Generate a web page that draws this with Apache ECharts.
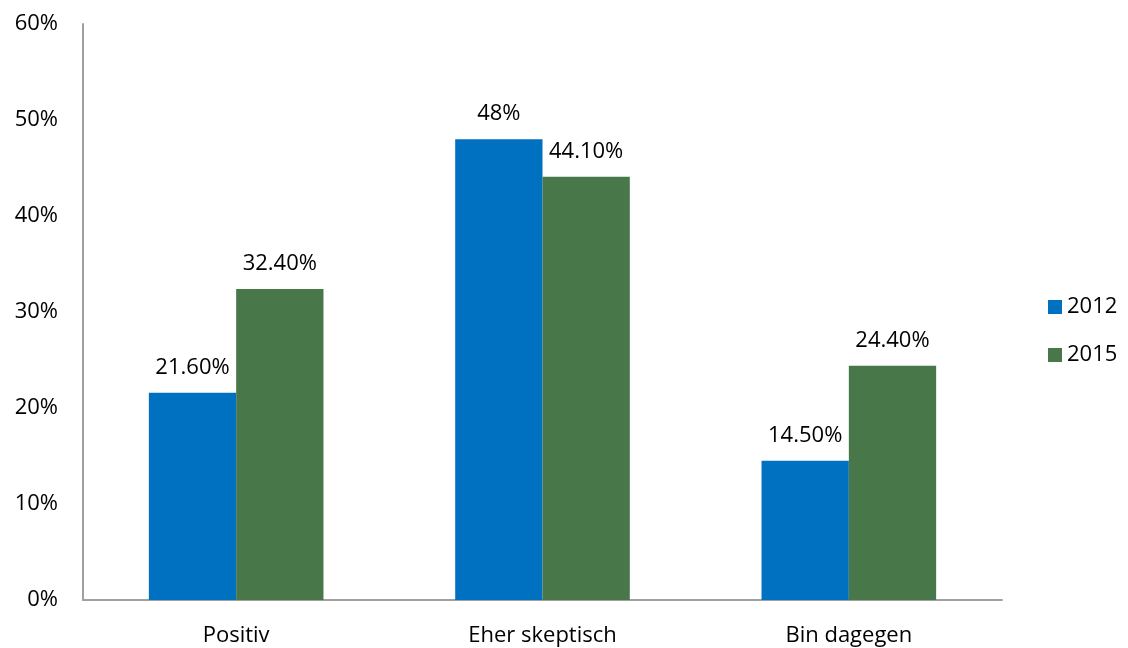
<!DOCTYPE html>
<html>
<head>
<meta charset="utf-8">
<script src="https://cdn.jsdelivr.net/npm/echarts@6/dist/echarts.min.js"></script>
<style>
  html, body { margin: 0; padding: 0; background: #fff; }
  #chart { width: 1128px; height: 648px; }
</style>
</head>
<body>
<div id="chart"></div>
<script>
var categories = ['Positiv', 'Eher skeptisch', 'Bin dagegen'];
var values2012 = [21.6, 48, 14.5];
var values2015 = [32.4, 44.1, 24.4];
var labels2012 = ['21.60%', '48%', '14.50%'];
var labels2015 = ['32.40%', '44.10%', '24.40%'];
var seriesNames = ['2012', '2015'];

var font = 'Open Sans';
var fs = 22;
var chart = echarts.init(document.getElementById('chart'));

var option = {
  animation: false,
  textStyle: { fontFamily: font, color: '#000' },
  grid: { left: 83, right: 126, top: 24, bottom: 48, containLabel: false },
  legend: {
    data: seriesNames,
    orient: 'vertical',
    left: 1043,
    top: 291,
    itemWidth: 14,
    itemHeight: 14,
    itemGap: 26,
    icon: 'rect',
    textStyle: { fontFamily: font, fontSize: fs, color: '#000' }
  },
  xAxis: {
    type: 'category',
    data: categories,
    axisLine: { lineStyle: { color: '#a0a0a0', width: 2 } },
    axisTick: { show: false },
    axisLabel: { fontFamily: font, fontSize: fs, color: '#000', margin: 25 }
  },
  yAxis: {
    type: 'value',
    min: 0,
    max: 60,
    interval: 10,
    axisLine: { show: true, lineStyle: { color: '#a0a0a0', width: 2 } },
    axisTick: { show: false },
    splitLine: { show: false },
    axisLabel: {
      fontFamily: font, fontSize: fs, color: '#000', margin: 25,
      formatter: function (v) { return v + '%'; }
    }
  },
  series: [
    {
      name: seriesNames[0],
      type: 'bar',
      data: values2012,
      barGap: '0%',
      barCategoryGap: '43%',
      itemStyle: { color: '#0070C0' },
      label: {
        show: true, position: 'top', distance: 14,
        fontFamily: font, fontSize: fs, color: '#000',
        formatter: function (p) { return labels2012[p.dataIndex]; }
      }
    },
    {
      name: seriesNames[1],
      type: 'bar',
      data: values2015,
      itemStyle: { color: '#48774A' },
      label: {
        show: true, position: 'top', distance: 14,
        fontFamily: font, fontSize: fs, color: '#000',
        formatter: function (p) { return labels2015[p.dataIndex]; }
      }
    }
  ]
};
chart.setOption(option);
</script>
</body>
</html>
